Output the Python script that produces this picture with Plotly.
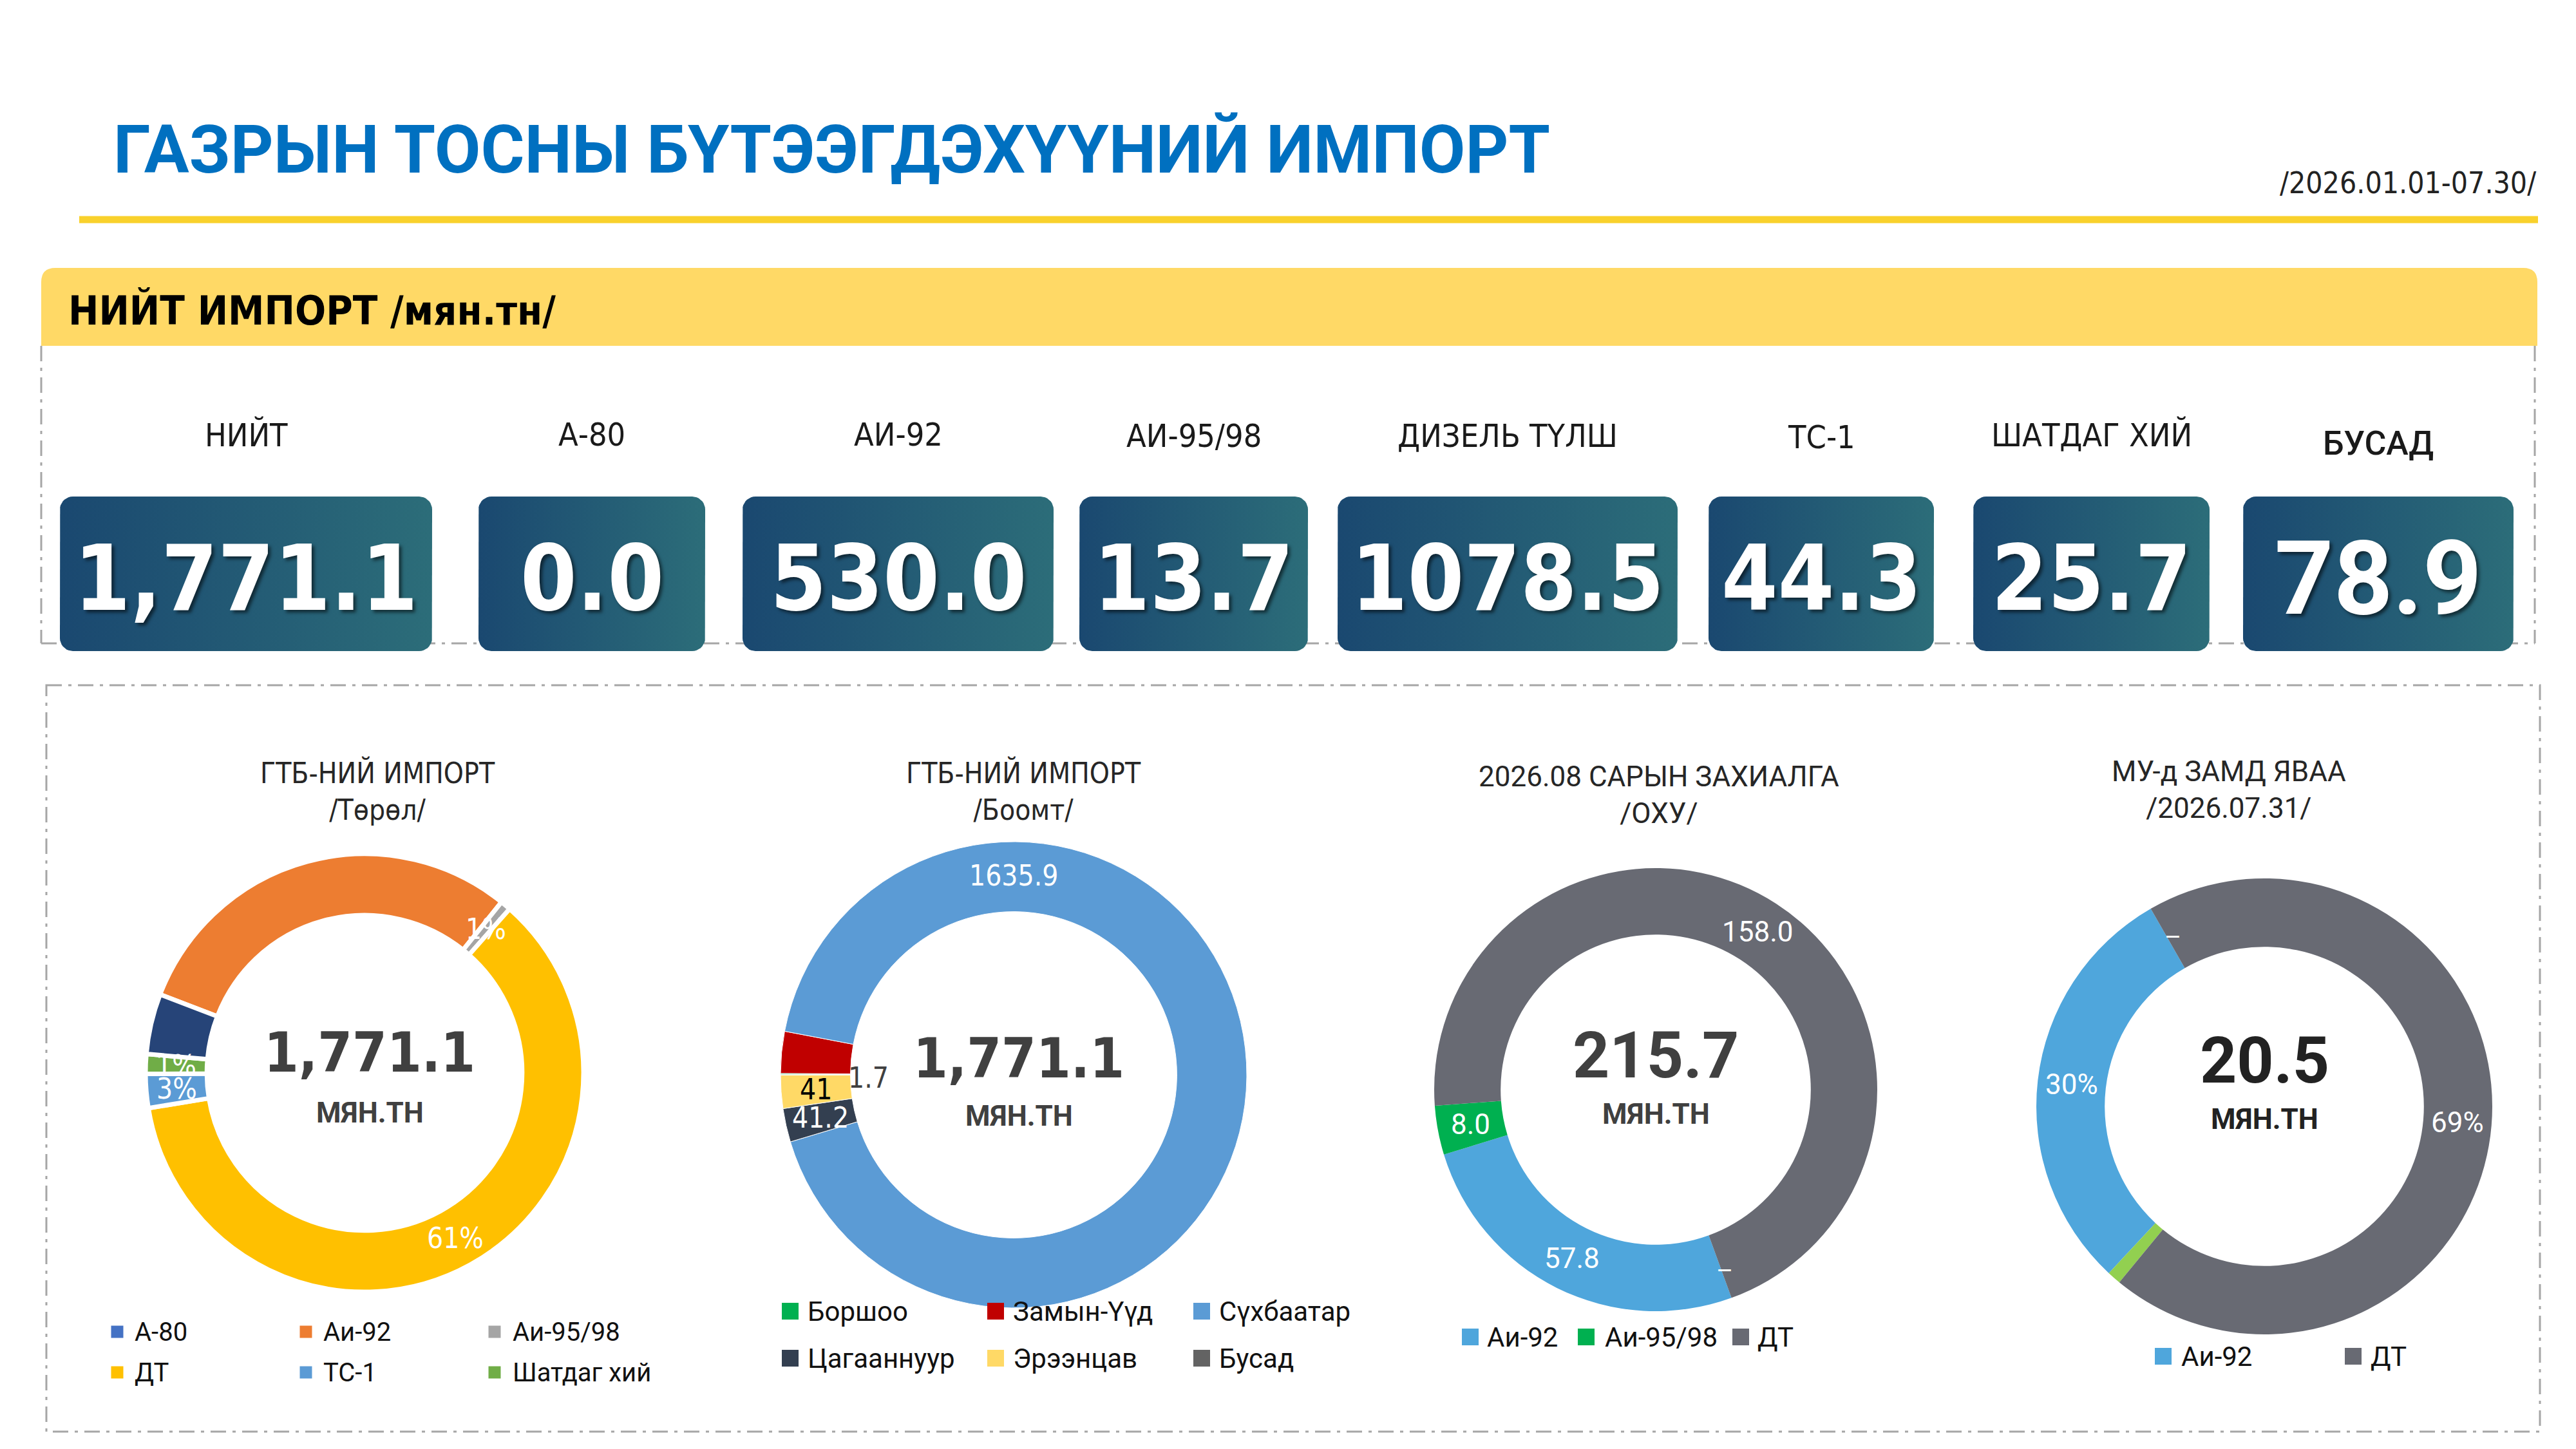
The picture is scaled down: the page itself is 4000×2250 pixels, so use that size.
import numpy as np
import plotly.graph_objects as go

W, H = 4000, 2250
NARROW = "DejaVu Sans Condensed"
WIDE = "Roboto"

# ---------------- data ----------------
title = "ГАЗРЫН ТОСНЫ БҮТЭЭГДЭХҮҮНИЙ ИМПОРТ"
period = "/2026.01.01-07.30/"
section = "НИЙТ ИМПОРТ /мян.тн/"

kpi_labels = ["НИЙТ", "А-80", "АИ-92", "АИ-95/98", "ДИЗЕЛЬ ТҮЛШ", "ТС-1", "ШАТДАГ ХИЙ", "БУСАД"]
kpi_values = [1771.1, 0.0, 530.0, 13.7, 1078.5, 44.3, 25.7, 78.9]

type_title = "ГТБ-НИЙ ИМПОРТ<br>/Төрөл/"
type_labels = ["А-80", "Аи-92", "Аи-95/98", "ДТ", "ТС-1", "Шатдаг хий", "Бусад"]
type_values = [0.0, 530.0, 13.7, 1078.5, 44.3, 25.7, 78.9]

port_title = "ГТБ-НИЙ ИМПОРТ<br>/Боомт/"
port_labels = ["Боршоо", "Замын-Үүд", "Сүхбаатар", "Цагааннуур", "Эрээнцав", "Бусад"]
port_values = [1.7, 51.3, 1635.9, 41.2, 41.0, 0.0]

order_title = "2026.08 САРЫН ЗАХИАЛГА<br>/ОХУ/"
order_labels = ["Аи-92", "Аи-95/98", "ДТ"]
order_values = [57.8, 8.0, 158.0]
order_total = 215.7

transit_title = "МУ-д ЗАМД ЯВАА<br>/2026.07.31/"
transit_labels = ["Аи-92", "Аи-95/98", "ДТ"]
transit_values = [6.1, 0.2, 14.2]
transit_total = 20.5
unit = "МЯН.ТН"

# ---------------- colours ----------------
type_colors = ["#4472C4", "#ED7D31", "#A5A5A5", "#FFC000", "#5B9BD5", "#70AD47", "#264478"]
port_colors = ["#00B050", "#C00000", "#5B9BD5", "#333F50", "#FFD966", "#636363"]
order_colors = ["#4FA6DC", "#00B050", "#686A73"]
transit_colors = ["#4FA6DC", "#92D050", "#686A73"]


def dom(cx, cy, r):
    return dict(x=[(cx - r) / W, (cx + r) / W], y=[1 - (cy + r) / H, 1 - (cy - r) / H])


def rounded_rect(x0, y0, x1, y1, r, n=10):
    xs, ys = [], []
    for cx, cy, a0, a1 in [(x1 - r, y0 + r, -90, 0), (x1 - r, y1 - r, 0, 90),
                           (x0 + r, y1 - r, 90, 180), (x0 + r, y0 + r, 180, 270)]:
        t = np.radians(np.linspace(a0, a1, n))
        xs += list(cx + r * np.cos(t))
        ys += list(cy + r * np.sin(t))
    return xs + xs[:1], ys + ys[:1]


def label_pos(values, rot, d, clockwise=True):
    # mid-angle of every slice, same convention as plotly (degrees clockwise from 12 o'clock)
    tot = float(sum(values))
    R = d["r"] * (1 + d["hole"]) / 2
    mids, a = [], rot
    for i, v in enumerate(values):
        span = v / tot * 360
        if clockwise:
            mids.append(a + span / 2)
            a += span
        elif i == 0:
            mids.append(rot + span / 2)
        else:
            mids.append(a - span / 2)
            a -= span
    t = np.radians(mids)
    return d["cx"] + R * np.sin(t), d["cy"] - R * np.cos(t)


fig = go.Figure()
shapes, ann = [], []

# ---------------- header ----------------
ann.append(dict(x=166, y=224, text=title, xanchor="left", yanchor="middle", showarrow=False,
                font=dict(family=WIDE, size=104, color="#0070C0", weight="bold")))
ann.append(dict(x=3932, y=276, text=period, xanchor="right", yanchor="middle", showarrow=False,
                font=dict(family=NARROW, size=46, color="#222222")))
shapes.append(dict(type="line", x0=115, x1=3933, y0=333, y1=333,
                   line=dict(color="#F9D12C", width=11)))
shapes.append(dict(type="path", layer="below", fillcolor="#FFD966", line=dict(width=0),
                   path="M56,529 L56,430 Q56,408 78,408 L3910,408 Q3932,408 3932,430 L3932,529 Z"))
ann.append(dict(x=96, y=474, text=section, xanchor="left", yanchor="middle", showarrow=False,
                font=dict(family=NARROW, size=63, color="#000000", weight="bold")))

# dashed frames
dd = "24px,10px,5px,10px"
for x0, y0, x1, y1 in [(56, 529, 56, 991), (3928, 529, 3928, 991), (56, 991, 3928, 991)]:
    shapes.append(dict(type="line", layer="below", x0=x0, y0=y0, x1=x1, y1=y1,
                       line=dict(color="#A6A6A6", width=3, dash=dd)))
shapes.append(dict(type="rect", layer="below", x0=64, y0=1056, x1=3936, y1=2215,
                   line=dict(color="#A6A6A6", width=3, dash=dd)))

# ---------------- KPI boxes ----------------
box_x = [(85, 663), (735, 1087), (1145, 1628), (1668, 2023), (2069, 2597),
         (2645, 2995), (3056, 3423), (3475, 3895)]
label_y = [667, 667, 667, 669, 669, 671, 667, 680]
value_font = [NARROW] * 7 + [WIDE]
value_size = [140] * 7 + [160]
for i, (lab, val) in enumerate(zip(kpi_labels, kpi_values)):
    x0, x1 = box_x[i]
    xs, ys = rounded_rect(x0, 763, x1, 1003, 20)
    fig.add_trace(go.Scatter(x=xs, y=ys, mode="lines", fill="toself", line=dict(width=0),
                             fillgradient=dict(type="horizontal",
                                               colorscale=[[0, "#1A4870"], [1, "#2C6D79"]]),
                             hoverinfo="skip", showlegend=False))
    txt = f"{val:,.1f}" if i == 0 else f"{val:.1f}"
    ann.append(dict(x=(x0 + x1) / 2, y=890, text=txt, showarrow=False, xanchor="center", yanchor="middle",
                    font=dict(family=value_font[i], size=value_size[i], color="white", weight="bold",
                              shadow="4px 4px 5px rgba(0,0,0,0.55)")))
    ann.append(dict(x=(x0 + x1) / 2, y=label_y[i], text=lab, showarrow=False, xanchor="center",
                    yanchor="middle",
                    font=dict(family=WIDE if i == 7 else NARROW, size=52 if i == 7 else 50,
                              color="#1A1A1A", weight=500 if i == 7 else "normal")))

# ---------------- donuts ----------------
donuts = [
    dict(cx=558, cy=1658, r=340, hole=0.72, tx=578, ty=1220, ny=1626, uy=1720),
    dict(cx=1566, cy=1661, r=362, hole=0.70, tx=1581, ty=1220, ny=1635, uy=1725),
    dict(cx=2563, cy=1684, r=344, hole=0.70, tx=2568, ty=1226, ny=1630, uy=1722),
    dict(cx=3508, cy=1710, r=354, hole=0.70, tx=3453, ty=1218, ny=1638, uy=1730),
]
pies = [
    (type_labels, type_values, type_colors, -69, "clockwise", 7),
    (port_labels, port_values, port_colors, -90, "clockwise", 1),
    (order_labels, order_values, order_colors, 160, "clockwise", 0),
    (transit_labels, transit_values, transit_colors, 223, "counterclockwise", 0),
]
for d, (labs, vals, cols, rot, direc, lw) in zip(donuts, pies):
    fig.add_trace(go.Pie(
        labels=labs, values=vals, hole=d["hole"], sort=False, direction=direc, rotation=rot,
        domain=dom(d["cx"], d["cy"], d["r"]), textinfo="none",
        marker=dict(colors=cols, line=dict(color="white", width=lw)),
        hoverinfo="skip", showlegend=False))

# slice labels (placed at each slice's mid-angle)
def add_labels(vals, texts, rot, d, fam, colors, clockwise=True, dx=0):
    xs, ys = label_pos(vals, rot, d, clockwise)
    for x, y, t, c in zip(xs, ys, texts, colors):
        if t:
            ann.append(dict(x=x + dx, y=y, text=t, showarrow=False, xanchor="center", yanchor="middle",
                            font=dict(family=fam, size=44, color=c)))


tot1 = sum(type_values)
add_labels(type_values, ["", "", f"{type_values[2] / tot1:.0%}", f"{type_values[3] / tot1:.0%}",
                         f"{type_values[4] / tot1:.0%}", f"{type_values[5] / tot1:.0%}", ""],
           -69, donuts[0], NARROW, ["white"] * 7)
add_labels(port_values, ["", "", "", f"{port_values[3]:.1f}", f"{port_values[4]:.0f}", ""],
           -90, donuts[1], NARROW, ["white", "white", "white", "white", "black", "white"])
ann.append(dict(x=donuts[1]["cx"], y=1351, text=f"{port_values[2]:.1f}", showarrow=False,
                font=dict(family=NARROW, size=44, color="white")))
ann.append(dict(x=1340, y=1665, text=f"{port_values[0]:.1f}", showarrow=False,
                font=dict(family=NARROW, size=44, color="#404040")))
add_labels(order_values, [f"{v:.1f}" for v in order_values], 160, donuts[2], WIDE, ["white"] * 3)
ann.append(dict(x=2670, y=1965, text="–", showarrow=False, font=dict(family=WIDE, size=40, color="white")))
tot4 = sum(transit_values)
add_labels(transit_values, [f"{transit_values[0] / tot4:.0%}", "", f"{transit_values[2] / tot4:.0%}"],
           223, donuts[3], WIDE, ["white"] * 3, clockwise=False)
ann.append(dict(x=3366, y=1447, text="–", showarrow=False, font=dict(family=WIDE, size=40, color="white")))

# titles and centre totals
titles = [type_title, port_title, order_title, transit_title]
totals = [sum(type_values), sum(port_values), order_total, transit_total]
for k, d in enumerate(donuts):
    narrow = k < 2
    ann.append(dict(x=d["tx"], y=d["ty"], text=titles[k], showarrow=False, xanchor="center",
                    yanchor="middle",
                    font=dict(family=NARROW if narrow else WIDE, size=44, color="#262626")))
    tot = f"{totals[k]:,.1f}"
    ann.append(dict(x=d["cx"] + (8 if narrow else 0), y=d["ny"], text=tot, showarrow=False,
                    yanchor="middle",
                    font=dict(family=NARROW if narrow else WIDE, size=86 if narrow else 100,
                              color="#222222" if k == 3 else "#404040", weight="bold")))
    ann.append(dict(x=d["cx"] + (8 if narrow else 0), y=d["uy"], text=unit, showarrow=False,
                    yanchor="middle",
                    font=dict(family=WIDE, size=44, color="#222222" if k == 3 else "#404040",
                              weight="bold")))

# ---------------- legends ----------------
legends = [
    dict(items=[0, 1, 2, 3, 4, 5], labels=type_labels, colors=type_colors,
         sq=[174, 467, 760], tx=[199, 492, 786], rows=[2060, 2123], s=19, size=40),
    dict(items=[0, 1, 2, 3, 4, 5], labels=port_labels, colors=port_colors,
         sq=[1219, 1538, 1858], tx=[1244, 1563, 1883], rows=[2028, 2101], s=26, size=42),
    dict(items=[0, 1, 2], labels=order_labels, colors=order_colors,
         sq=[2275, 2455, 2695], tx=[2299, 2482, 2719], rows=[2068], s=26, size=42),
    dict(items=[0, 2], labels=transit_labels, colors=transit_colors,
         sq=[3351, 3646], tx=[3377, 3671], rows=[2098], s=26, size=42),
]
for lg in legends:
    ncol = len(lg["sq"])
    for j, idx in enumerate(lg["items"]):
        c, r = j % ncol, j // ncol
        x, y, s = lg["sq"][c], lg["rows"][r], lg["s"]
        shapes.append(dict(type="rect", x0=x - s / 2, x1=x + s / 2, y0=y - s / 2, y1=y + s / 2,
                           fillcolor=lg["colors"][idx], line=dict(width=0)))
        ann.append(dict(x=lg["tx"][c], y=y, text=lg["labels"][idx], showarrow=False, xanchor="left",
                        yanchor="middle", font=dict(family=WIDE, size=lg["size"], color="#111111")))

fig.update_layout(
    width=W, height=H, margin=dict(l=0, r=0, t=0, b=0),
    paper_bgcolor="white", plot_bgcolor="white",
    xaxis=dict(range=[0, W], visible=False, fixedrange=True, domain=[0, 1]),
    yaxis=dict(range=[H, 0], visible=False, fixedrange=True, domain=[0, 1]),
    shapes=shapes, annotations=ann, showlegend=False,
)

fig.write_html("out.html")
